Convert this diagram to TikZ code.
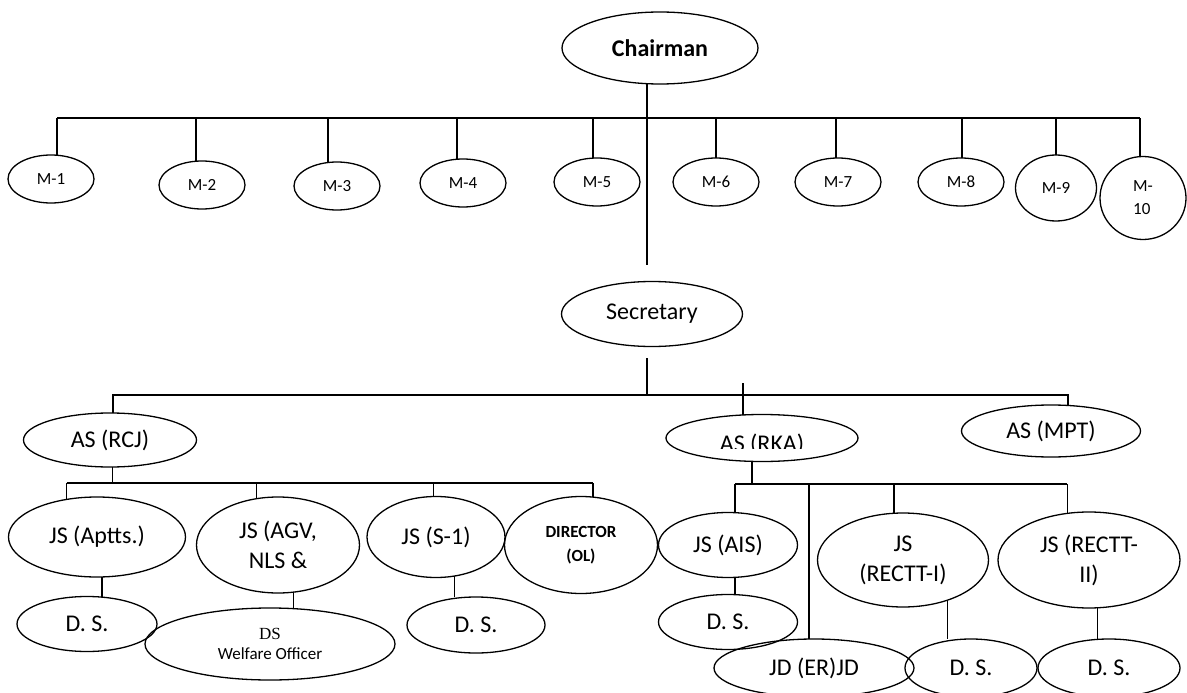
\documentclass[tikz,border=0pt]{standalone}
\usepackage{fontspec}
\setmainfont{Carlito}
\newfontfamily\dsfont{Liberation Serif}
\usetikzlibrary{shapes.geometric}

\tikzset{
  oval/.style={draw, ellipse, line width=1.3pt, inner sep=0pt, outer sep=0pt, align=center, font=\fontsize{24}{30}\selectfont},
  mbox/.style={oval, minimum width=86pt, minimum height=48pt, font=\fontsize{17}{23}\selectfont},
  conn/.style={line width=1.3pt},
}

\begin{document}
\begin{tikzpicture}[x=1pt,y=-1pt]
    \useasboundingbox (0,0) rectangle (1187,693);

    \node[oval, minimum width=196pt, minimum height=72pt, font=\fontsize{24}{30}\selectfont\bfseries] (chair) at (660,48) {Chairman}; % 主席
    \coordinate (trunk end) at (647,265);
    \draw[conn] (trunk end |- chair.south) -- (trunk end);

    % 成员 M-1 ... M-8
    \coordinate (mbus) at (57,118);
    \foreach \n/\x/\y/\d in {1/51/179/6pt, 2/202/185/-6pt, 3/337/186/-9pt, 4/463/183/-6pt,
                             5/597/182/-4pt, 6/716/182/0pt, 7/838/182/-2pt, 8/961/182/1pt}{
        \node[mbox] (m\n) at (\x,\y) {M-\n};
        \coordinate (t\n) at ([xshift=\d]m\n.north);
        \draw[conn] (t\n |- mbus) -- (t\n);
    }
    \node[mbox, minimum width=81pt, minimum height=66pt] (m9) at (1056,188) {M-9};
    \coordinate (t9) at (m9.north);
    \draw[conn] (t9 |- mbus) -- (t9);
    \node[mbox, minimum width=86pt, minimum height=83pt, align=left] (m10) at (1143,198) {M-\\10};
    \coordinate (t10) at ([xshift=-3pt]m10.north);
    \draw[conn] (t10 |- mbus) -- (t10);
    \draw[conn] (t1 |- mbus) -- (t10 |- mbus); % 横线

    \node[oval, minimum width=181pt, minimum height=65pt] (sec) at (652,314) {Secretary}; % 秘书
    \coordinate (secbus) at (113,395);
    \coordinate (s top) at (647,358);
    \draw[conn] (s top) -- (s top |- secbus);

    % 三个 AS
    \node[oval, minimum width=173pt, minimum height=54pt] (asrcj) at (110,440) {AS (RCJ)};
    \node[oval, minimum width=192pt, minimum height=47pt] (asrka) at (762,438) {};
    \begin{scope}
        \clip (asrka.north -| asrka.west) rectangle ([yshift=-10pt]asrka.east);
        \node[anchor=base, font=\fontsize{24}{30}\selectfont] at ([yshift=-13pt]asrka.center) {AS (RKA)};
    \end{scope}
    \node[oval, minimum width=179pt, minimum height=52pt] (asmpt) at (1051,431) {AS (MPT)};
    \coordinate (b2l) at (113,395);
    \coordinate (b2r) at (1068,395);
    \coordinate (rka top) at (743,383);
    \draw[conn] (b2l |- asrcj.north) -- (b2l) -- (b2r) -- (b2r |- asmpt.north);
    \draw[conn] (rka top) -- (rka top |- asrka.north);

    % AS (RCJ) 下属
    \node[oval, minimum width=177pt, minimum height=80pt] (jsaptts) at (97,537) {JS (Aptts.)};
    \node[oval, minimum width=163pt, minimum height=96pt] (jsagv) at (278,545) {JS (AGV,\\NLS \&};
    \node[oval, minimum width=138pt, minimum height=81pt] (jss1) at (436,537) {JS (S-1)};
    \node[oval, minimum width=153pt, minimum height=97pt, font=\fontsize{17}{24}\selectfont\bfseries] (dirol) at (581,545) {DIRECTOR\\(OL)};
    \coordinate (rcjbus) at (67,483);
    \draw[conn] (asrcj.276) -- (asrcj.276 |- rcjbus);
    \draw[conn] (jsaptts.129 |- rcjbus) -- (dirol.76 |- rcjbus);
    \foreach \a in {jsaptts.129, jsagv.115, jss1.94, dirol.76}
        \draw[conn] (\a |- rcjbus) -- (\a);

    \node[oval, minimum width=140pt, minimum height=55pt] (dsaptts) at (87,624) {D. S.};
    \node[oval, minimum width=250pt, minimum height=72pt, font=\fontsize{17}{20}\selectfont] (dswo) at (270,644) {{\dsfont DS}\\Welfare Officer};
    \node[oval, minimum width=138pt, minimum height=56pt] (dss1) at (476,625) {D. S.};
    \draw[conn] (jsaptts.277) -- (jsaptts.277 |- dsaptts.north);
    \draw[conn] (jsagv.288) -- (jsagv.288 |- dswo.north);
    \draw[conn] (jss1.295) -- (jss1.295 |- dss1.north);

    % AS (RKA) 下属
    \node[oval, minimum width=139pt, minimum height=65pt] (jsais) at (728,545) {JS (AIS)};
    \node[oval, minimum width=171pt, minimum height=94pt] (jsr1) at (903,560) {JS\\(RECTT-I)};
    \node[oval, minimum width=182pt, minimum height=96pt] (jsr2) at (1089,560) {JS (RECTT-\\II)};
    \node[oval, minimum width=139pt, minimum height=55pt] (dsais) at (728,622) {D. S.};
    \node[oval, minimum width=200pt, minimum height=58pt] (jder) at (814,668) {JD (ER)JD};
    \node[oval, minimum width=132pt, minimum height=58pt] (dsr1) at (971,668) {D. S.};
    \node[oval, minimum width=142pt, minimum height=58pt] (dsr2) at (1109,668) {D. S.};
    \coordinate (rkabus) at (735,484);
    \draw[conn] (asrka.247) -- (asrka.247 |- rkabus);
    \draw[conn] (jsais.78 |- rkabus) -- (jsr2.115 |- rkabus);
    \foreach \a in {jsais.78, jder.100, jsr1.101, jsr2.115}
        \draw[conn] (\a |- rkabus) -- (\a);
    \draw[conn] (jsais.282) -- (jsais.282 |- dsais.north);
    \draw[conn] (jsr1.318) -- (jsr1.318 |- dsr1.north);
    \draw[conn] (jsr2.280) -- (jsr2.280 |- dsr2.north);
\end{tikzpicture}
\end{document}
